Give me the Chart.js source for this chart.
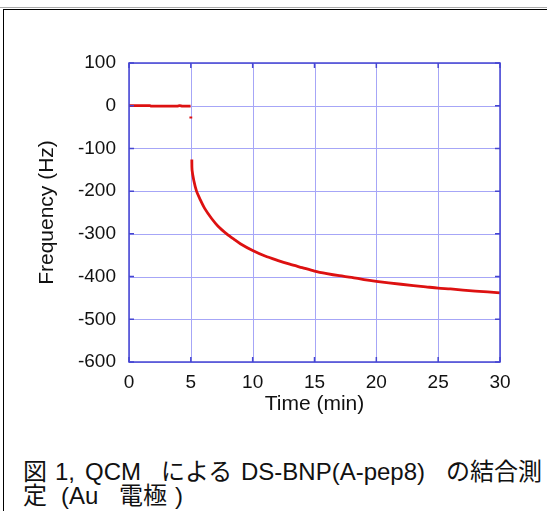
<!DOCTYPE html>
<html>
<head>
<meta charset="utf-8">
<script src="https://cdn.jsdelivr.net/npm/chart.js@4/dist/chart.umd.min.js"></script>
<style>
  html, body { margin: 0; padding: 0; background: #fff; }
  body { width: 547px; height: 511px; position: relative; overflow: hidden; }
  #topline { position: absolute; left: 0; top: 7px; width: 547px; height: 0; border-top: 1px solid #aaa; }
  #frame { position: absolute; left: 3px; top: 9px; width: 600px; height: 600px; border: 1px solid #000; }
  #wrap { position: absolute; left: 0; top: 0; width: 547px; height: 430px; }
  .cap span {
    position: absolute; white-space: nowrap;
    font-family: "Liberation Sans", "Noto Sans CJK JP", sans-serif;
    font-size: 24px; line-height: 24px; color: #111;
  }
  .l1 { top: 460px; }
  .l2 { top: 484px; }
</style>
</head>
<body>
<div id="topline"></div>
<div id="frame"></div>
<div id="wrap"><canvas id="qcm" width="547" height="430"></canvas></div>
<div class="cap">
  <span class="l1" style="left:23px">図</span>
  <span class="l1" style="left:55px">1,</span>
  <span class="l1" style="left:85px">QCM</span>
  <span class="l1" style="left:161px">による</span>
  <span class="l1" style="left:241px">DS-BNP(A-pep8)</span>
  <span class="l1" style="left:446px">の結合測</span>
  <span class="l2" style="left:23px">定</span>
  <span class="l2" style="left:61px">(Au</span>
  <span class="l2" style="left:119px">電極</span>
  <span class="l2" style="left:175px">)</span>
</div>
<script>
// 時間 (min) と 周波数変化 (Hz)
var timeMin = [0, 0.5, 1, 1.7, 1.8, 2, 2.5, 3, 3.5, 3.9, 4.1, 4.3, 4.6, 4.98,
               5.0, 5.0, 5.0, 5.0,
               5.08, 5.1, 5.24, 5.46, 5.73, 6.13, 6.68, 7.2, 7.9, 8.5, 9,
               10, 11, 12, 13, 14, 15, 16, 17, 18, 19, 20, 22, 24, 25, 26, 28, 30];
var freqHz = [0, 0, 0, 0, -1, -1, -1, -1, -1, -1, 0, -1, -1, -1,
              null, -25, -30, null,
              -126, -151, -175, -200, -218, -241, -264, -282, -300, -313, -323,
              -339, -352, -362, -371, -379, -387, -393, -398, -402, -407, -411, -418, -424, -427, -429, -434, -438];

var xTicks = [0, 5, 10, 15, 20, 25, 30];
var yTicks = [100, 0, -100, -200, -300, -400, -500, -600];

var puntos = [];
for (var i = 0; i < timeMin.length; i++) {
    puntos.push({ x: timeMin[i], y: freqHz[i] });
}

var azul = "#4646d2";
var gridAzul = "#a6a6f7";
var fuenteTicks = { family: "'Liberation Sans', Arial, sans-serif", size: 19 };
var fuenteTitulo = { family: "'Liberation Sans', Arial, sans-serif", size: 21 };

// rejilla, marco del area y marcas hacia adentro
var marco = {
    id: "marco",
    beforeDatasetsDraw: function(chart) {
        var ctx = chart.ctx;
        var a = chart.chartArea;
        var sx = chart.scales.x, sy = chart.scales.y;
        ctx.save();
        ctx.strokeStyle = gridAzul;
        ctx.lineWidth = 1;
        ctx.beginPath();
        xTicks.forEach(function(v) {
            var px = Math.round(sx.getPixelForValue(v)) + 0.5;
            ctx.moveTo(px, a.top); ctx.lineTo(px, a.bottom);
        });
        yTicks.forEach(function(v) {
            var py = Math.round(sy.getPixelForValue(v)) + 0.5;
            ctx.moveTo(a.left, py); ctx.lineTo(a.right, py);
        });
        ctx.stroke();
        ctx.restore();
    },
    afterDraw: function(chart) {
        var ctx = chart.ctx;
        var a = chart.chartArea;
        var sx = chart.scales.x, sy = chart.scales.y;
        ctx.save();
        ctx.strokeStyle = azul;
        ctx.lineWidth = 1.5;
        ctx.strokeRect(a.left, a.top, a.right - a.left, a.bottom - a.top);
        ctx.beginPath();
        xTicks.forEach(function(v) {
            var px = sx.getPixelForValue(v);
            ctx.moveTo(px, a.bottom); ctx.lineTo(px, a.bottom - 5);
            ctx.moveTo(px, a.top); ctx.lineTo(px, a.top + 5);
        });
        yTicks.forEach(function(v) {
            var py = sy.getPixelForValue(v);
            ctx.moveTo(a.left, py); ctx.lineTo(a.left + 5, py);
            ctx.moveTo(a.right, py); ctx.lineTo(a.right - 5, py);
        });
        ctx.stroke();
        ctx.restore();
    }
};

var canvas = document.getElementById("qcm").getContext("2d");
window.grafico = new Chart(canvas, {
    type: "line",
    data: {
        datasets: [{
            data: puntos,
            borderColor: "#dd1111",
            borderWidth: 2.8,
            pointRadius: 0,
            tension: 0.3,
            spanGaps: false
        }]
    },
    options: {
        responsive: false,
        animation: false,
        layout: { padding: { top: 63, right: 47, left: 0, bottom: 0 } },
        plugins: { legend: { display: false }, tooltip: { enabled: false } },
        scales: {
            x: {
                type: "linear",
                min: 0, max: 30,
                afterBuildTicks: function(s) { s.ticks = xTicks.map(function(v) { return { value: v }; }); },
                afterFit: function(s) { s.height = 68; },
                grid: { display: false, drawTicks: false },
                border: { display: false },
                ticks: { color: "#111", font: fuenteTicks, padding: 9, maxRotation: 0 },
                title: { display: true, text: "Time (min)", color: "#111", font: fuenteTitulo, padding: { top: 0, bottom: 13 } }
            },
            y: {
                type: "linear",
                min: -600, max: 100,
                afterBuildTicks: function(s) { s.ticks = yTicks.map(function(v) { return { value: v }; }); },
                afterFit: function(s) { s.width = 129; },
                grid: { display: false, drawTicks: false },
                border: { display: false },
                ticks: { color: "#111", font: fuenteTicks, padding: 13 },
                title: { display: true, text: "Frequency (Hz)", color: "#111", font: fuenteTitulo, padding: { top: 35, bottom: 0 } }
            }
        }
    },
    plugins: [marco]
});
</script>
</body>
</html>
